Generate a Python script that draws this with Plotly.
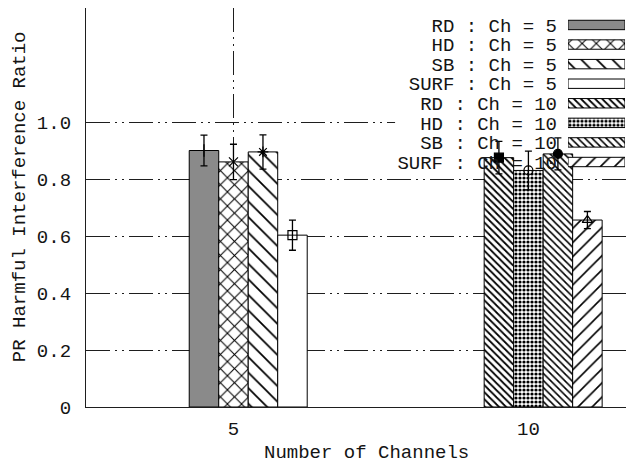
import plotly.graph_objects as go

# ---------------- data ----------------
channels = [5, 10]
schemes = ["RD", "HD", "SB", "SURF"]
values_ch5 = [0.900, 0.860, 0.895, 0.603]
values_ch10 = [0.875, 0.830, 0.888, 0.656]
errors_ch5 = [0.054, 0.062, 0.060, 0.053]
errors_ch10 = [0.057, 0.068, 0.056, 0.030]
y_ticks = [0, 0.2, 0.4, 0.6, 0.8, 1.0]
y_tick_labels = ["0", "0.2", "0.4", "0.6", "0.8", "1.0"]
x_tick_labels = ["5", "10"]

values = [values_ch5, values_ch10]
errors = [errors_ch5, errors_ch10]

# ---------------- styles ----------------
FONT = "Liberation Mono, Courier New, monospace"
TXT = "#141414"
X_RANGE = [2.5, 11.79]
Y_RANGE = [0, 1.4]


def pat(shape, size, solidity):
    return dict(shape=shape, size=size, solidity=solidity,
                fgcolor="black", bgcolor="white", fgopacity=1)


bar_styles = [
    [  # Ch = 5
        dict(color="#8a8a8a", pattern=None),
        dict(color="white", pattern=pat("x", 10, 0.2)),
        dict(color="white", pattern=pat("\\", 11, 0.16)),
        dict(color="white", pattern=None),
    ],
    [  # Ch = 10
        dict(color="white", pattern=pat("\\", 5, 0.36)),
        dict(color="white", pattern=pat(".", 4, 0.5)),
        dict(color="white", pattern=pat("\\", 5, 0.32)),
        dict(color="white", pattern=pat("/", 10, 0.16)),
    ],
]
point_symbols = [
    ["cross-thin-open", "x-thin-open", "asterisk-open", "square-open"],
    ["square", "circle-open", "circle", "triangle-up-open"],
]
BAR_W = 0.5

fig = go.Figure()

labels = []
for ci, ch in enumerate(channels):
    for k, s in enumerate(schemes):
        label = f"{s} : Ch = {ch}"
        labels.append(label)
        st = bar_styles[ci][k]
        mk = dict(color=st["color"], line=dict(color="black", width=1))
        if st["pattern"] is not None:
            mk["pattern"] = st["pattern"]
        # main bar
        fig.add_trace(go.Bar(
            x=[ch], y=[values[ci][k]], width=BAR_W,
            offset=(k - 1) * BAR_W - BAR_W / 2,
            marker=mk, showlegend=False, name=label,
            xaxis="x", yaxis="y",
        ))
        # legend sample bar
        fig.add_trace(go.Bar(
            x=[1], y=[label], orientation="h", width=0.48, base=0,
            marker=mk, showlegend=False, name=label,
            xaxis="x2", yaxis="y2",
        ))

# error bars with points
for ci, ch in enumerate(channels):
    for k, s in enumerate(schemes):
        fig.add_trace(go.Scatter(
            x=[ch + (k - 1) * BAR_W], y=[values[ci][k]], mode="markers",
            marker=dict(symbol=point_symbols[ci][k], size=9, color="black",
                        line=dict(color="black", width=1.2)),
            error_y=dict(type="data", array=[errors[ci][k]], color="black",
                         thickness=1.3, width=3.5),
            showlegend=False, xaxis="x", yaxis="y",
        ))

# white key box (between gridlines and bars), given as fractions of the plot area
bx0 = X_RANGE[0] + 0.564 * (X_RANGE[1] - X_RANGE[0])
by0 = Y_RANGE[0] + 0.589 * (Y_RANGE[1] - Y_RANGE[0])

griddash = "24px,5px,2px,5px,2px,5px"
fig.update_layout(
    # the page body adds an 8px offset, so the figure is 8px smaller
    width=626, height=458,
    margin=dict(l=78, r=0, t=0, b=59, autoexpand=False),
    paper_bgcolor="white", plot_bgcolor="rgba(0,0,0,0)",
    barmode="overlay",
    font=dict(family=FONT, size=19, color=TXT),
    xaxis=dict(
        domain=[0, 1], range=X_RANGE,
        tickvals=channels, ticktext=x_tick_labels, ticks="",
        showgrid=True, gridcolor="#1e1e1e", gridwidth=1, griddash=griddash,
        zeroline=False, showline=True, mirror=True, linecolor="#1e1e1e", linewidth=1.3,
        ticklabelstandoff=4, tickfont=dict(size=19, family=FONT, color=TXT),
    ),
    yaxis=dict(
        domain=[0, 1], range=Y_RANGE,
        tickvals=y_ticks, ticktext=y_tick_labels, ticks="",
        showgrid=True, gridcolor="#1e1e1e", gridwidth=1, griddash=griddash,
        zeroline=False, showline=True, mirror=False, linecolor="#1e1e1e", linewidth=1.3,
        ticklabelstandoff=10, tickfont=dict(size=19, family=FONT, color=TXT),
    ),
    xaxis2=dict(
        domain=[0.8796, 0.9836], range=[0, 1], anchor="y2",
        showgrid=False, zeroline=False, showline=False, showticklabels=False, ticks="",
    ),
    yaxis2=dict(
        domain=[0.5895, 0.982], range=[7.5, -0.5], anchor="x2",
        type="category", categoryorder="array", categoryarray=labels,
        tickmode="array", tickvals=labels, ticktext=labels,
        showgrid=False, zeroline=False, showline=False, ticks="",
        ticklabelstandoff=10, tickfont=dict(size=19, family=FONT, color=TXT),
    ),
    shapes=[dict(
        type="rect", xref="x", yref="y",
        x0=bx0, x1=X_RANGE[1], y0=by0, y1=Y_RANGE[1],
        fillcolor="white", line=dict(width=0), layer="between",
    )],
    annotations=[
        dict(text="PR Harmful Interference Ratio", xref="paper", yref="paper",
             x=-0.1204, y=0.526, xanchor="center", yanchor="middle",
             textangle=-90, showarrow=False,
             font=dict(size=19, family=FONT, color=TXT)),
        dict(text="Number of Channels", xref="paper", yref="paper",
             x=0.511, y=-0.1153, xanchor="center", yanchor="middle",
             showarrow=False,
             font=dict(size=19, family=FONT, color=TXT)),
    ],
)

fig.write_html("out.html")
